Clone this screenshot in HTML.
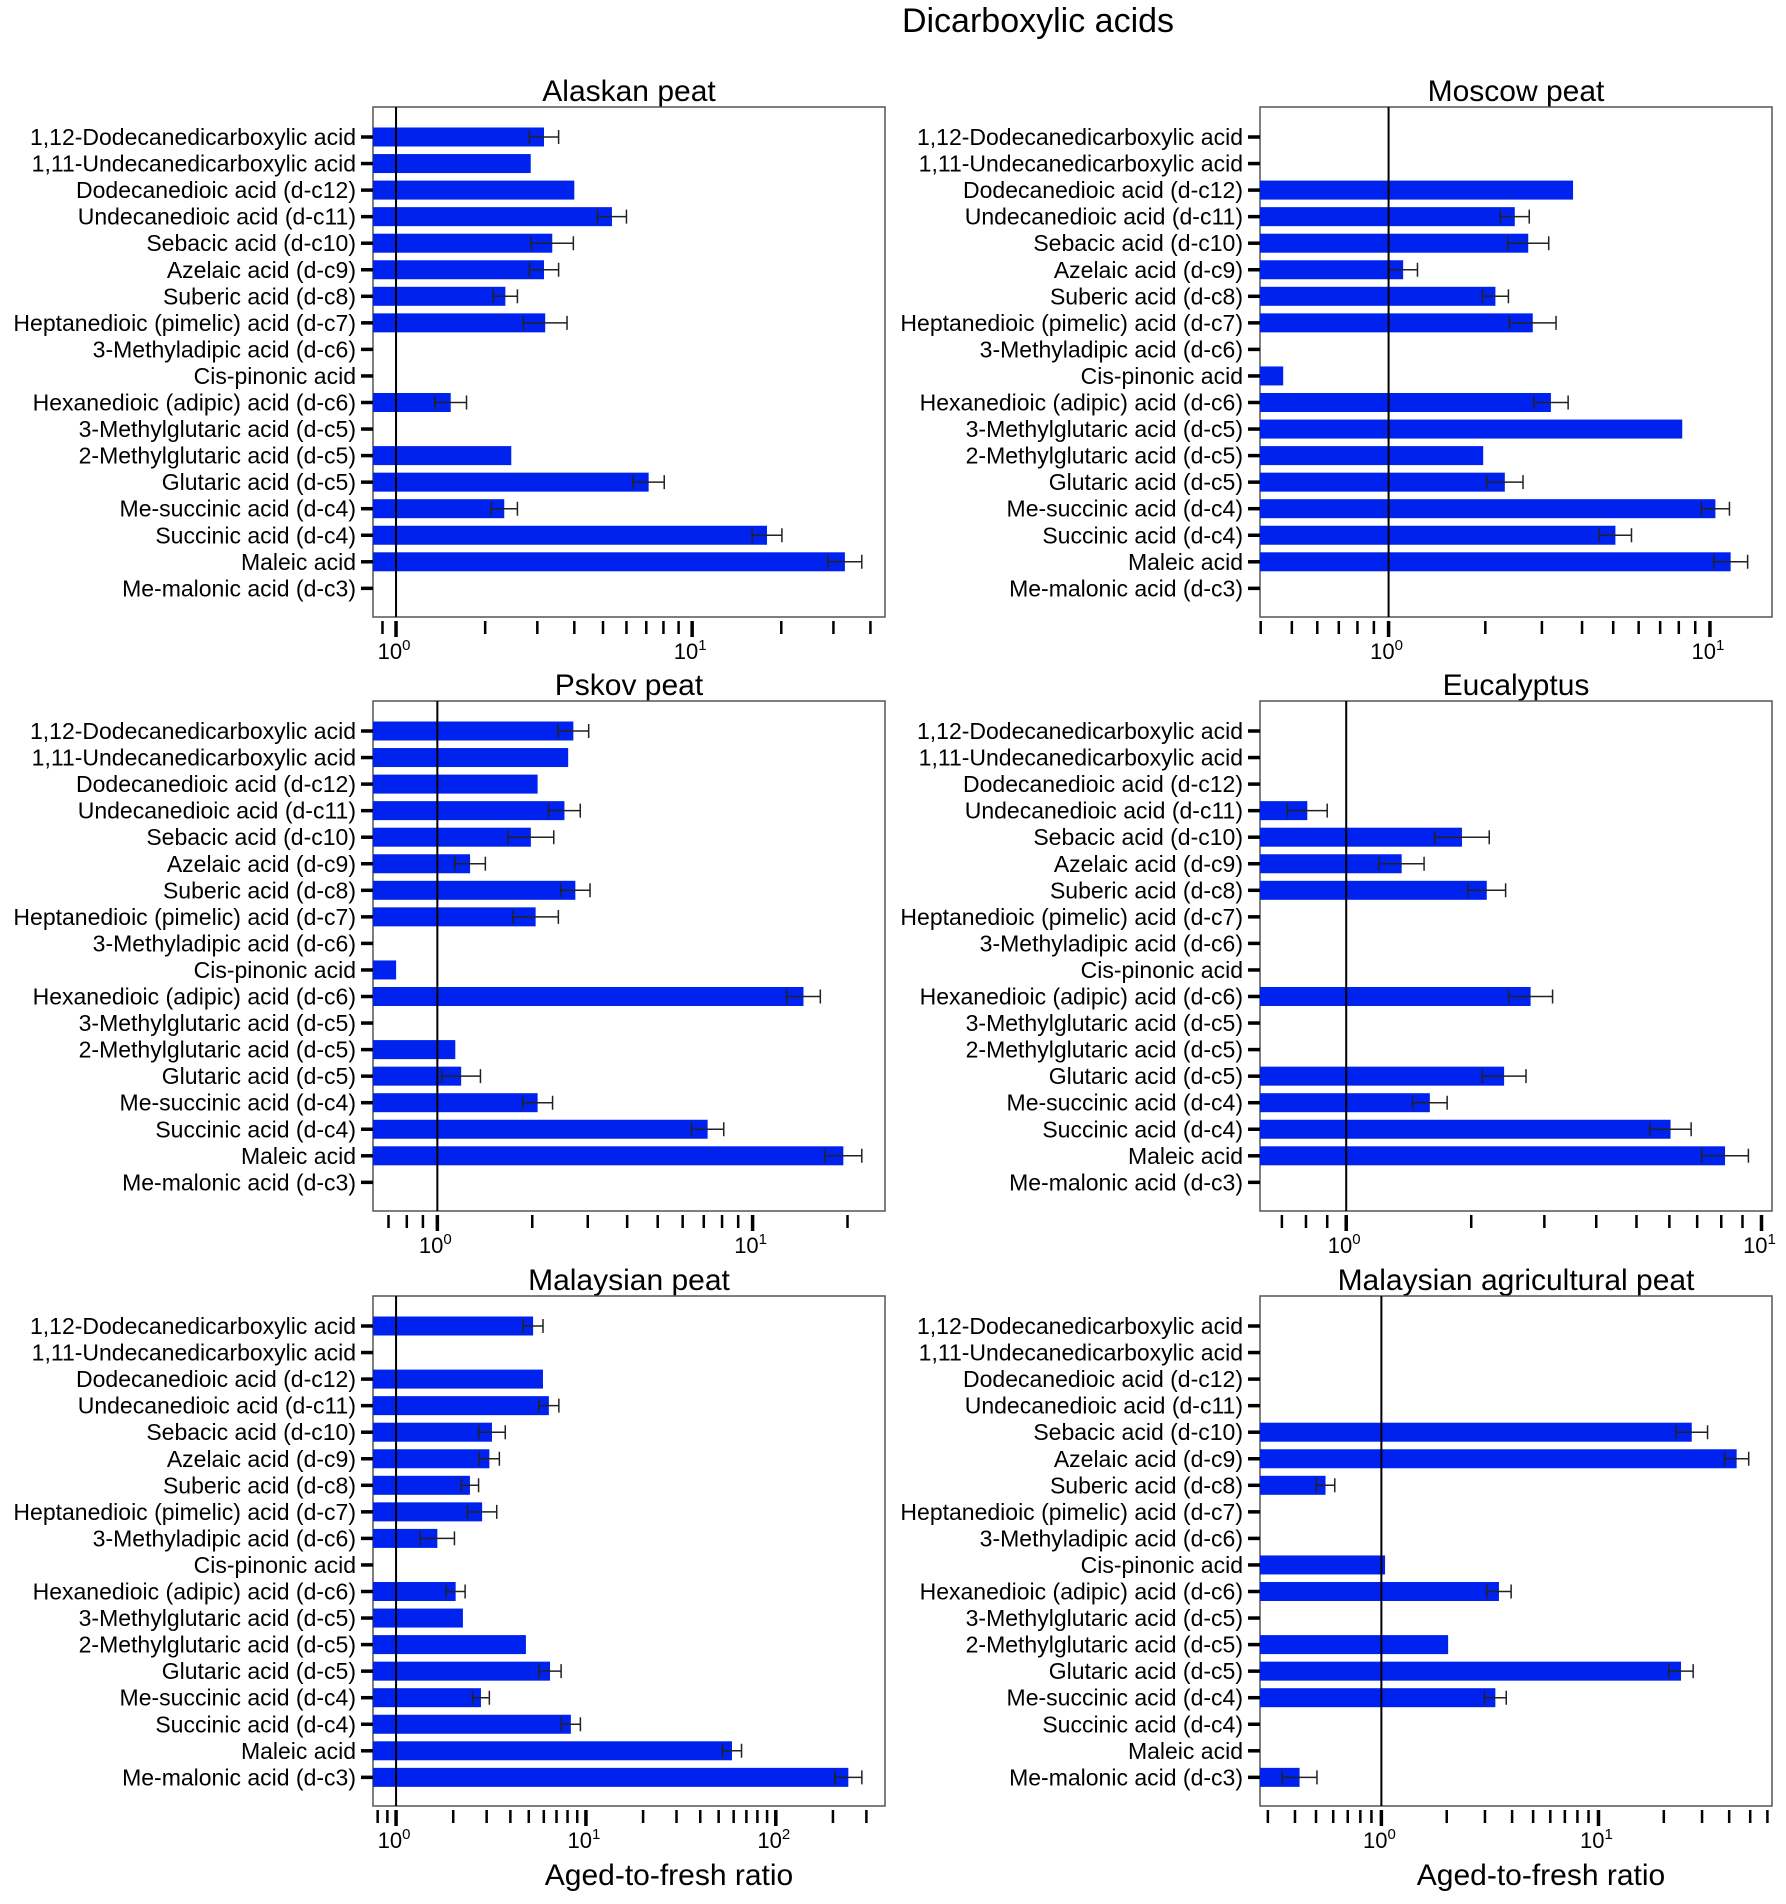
<!DOCTYPE html>
<html><head><meta charset="utf-8"><style>
html,body{margin:0;padding:0;background:#fff;}
svg{display:block;font-family:"Liberation Sans","DejaVu Sans",sans-serif;}
</style></head>
<body>
<svg id="fig" width="1786" height="1904" viewBox="0 0 1786 1904" xmlns="http://www.w3.org/2000/svg">
<text x="1038" y="32" font-size="34" text-anchor="middle">Dicarboxylic acids</text>
<text x="669" y="1885" font-size="30" text-anchor="middle">Aged-to-fresh ratio</text>
<text x="1541" y="1885" font-size="30" text-anchor="middle">Aged-to-fresh ratio</text>
</svg>
<script>
const categories = ["1,12-Dodecanedicarboxylic acid","1,11-Undecanedicarboxylic acid","Dodecanedioic acid (d-c12)","Undecanedioic acid (d-c11)","Sebacic acid (d-c10)","Azelaic acid (d-c9)","Suberic acid (d-c8)","Heptanedioic (pimelic) acid (d-c7)","3-Methyladipic acid (d-c6)","Cis-pinonic acid","Hexanedioic (adipic) acid (d-c6)","3-Methylglutaric acid (d-c5)","2-Methylglutaric acid (d-c5)","Glutaric acid (d-c5)","Me-succinic acid (d-c4)","Succinic acid (d-c4)","Maleic acid","Me-malonic acid (d-c3)"];
const panelTitles = ["Alaskan peat","Moscow peat","Pskov peat","Eucalyptus","Malaysian peat","Malaysian agricultural peat"];
// values (null = no bar); errors = upper bound of error bar (null = none)
const alaskanValues = [3.16,2.85,4.0,5.36,3.37,3.16,2.34,3.19,null,null,1.53,null,2.45,7.13,2.32,17.9,32.8,null];
const alaskanErrHi  = [3.54,null,null,6.0,3.97,3.54,2.57,3.78,null,null,1.73,null,null,8.05,2.57,20.1,37.4,null];
const moscowValues  = [null,null,3.75,2.47,2.72,1.11,2.15,2.81,null,0.47,3.2,8.2,1.97,2.3,10.4,5.08,11.6,null];
const moscowErrHi   = [null,null,null,2.74,3.15,1.23,2.36,3.32,null,null,3.62,null,null,2.62,11.5,5.7,13.1,null];
const pskovValues   = [2.7,2.6,2.08,2.53,1.98,1.27,2.74,2.05,null,0.74,14.5,null,1.14,1.19,2.08,7.2,19.4,null];
const pskovErrHi    = [3.02,null,null,2.84,2.34,1.42,3.05,2.42,null,null,16.4,null,null,1.37,2.32,8.1,22.2,null];
const eucValues     = [null,null,null,0.806,1.9,1.36,2.18,null,null,null,2.78,null,null,2.4,1.59,6.04,8.17,null];
const eucErrHi      = [null,null,null,0.90,2.21,1.54,2.42,null,null,null,3.14,null,null,2.71,1.75,6.77,9.3,null];
const malValues     = [5.27,null,5.94,6.38,3.2,3.1,2.45,2.84,1.65,null,2.06,2.25,4.83,6.47,2.8,8.33,58.8,241];
const malErrHi      = [5.94,null,null,7.2,3.76,3.5,2.72,3.39,2.03,null,2.31,null,null,7.4,3.1,9.35,66,284];
const agrValues     = [null,null,null,null,26.9,43.3,0.553,null,null,1.04,3.48,null,2.03,24.0,3.35,null,null,0.42];
const agrErrHi      = [null,null,null,null,31.8,49.2,0.61,null,null,null,3.96,null,null,27.3,3.76,null,null,0.505];
const xDomains = [[0.836,44.8],[0.398,15.6],[0.625,26.3],[0.62,10.6],[0.756,376],[0.276,63]];
const xTickDecades = [[0,1],[0,1],[0,1],[0,1],[0,1,2],[0,1]];
const seriesValues = [alaskanValues,moscowValues,pskovValues,eucValues,malValues,agrValues];
const seriesErrHi = [alaskanErrHi,moscowErrHi,pskovErrHi,eucErrHi,malErrHi,agrErrHi];

const NS="http://www.w3.org/2000/svg";
const svg=document.getElementById('fig');
function mk(tag,attrs,parent){const e=document.createElementNS(NS,tag);for(const k in attrs)e.setAttribute(k,attrs[k]);(parent||svg).appendChild(e);return e;}
const lefts=[373,1260], tops=[107,701,1296], W=512, H=510;
for(let p=0;p<6;p++){
  const fx=lefts[p%2], fy=tops[Math.floor(p/2)];
  const [d0,d1]=xDomains[p];
  const l0=Math.log10(d0), l1=Math.log10(d1);
  const xs=v=>fx+(Math.log10(v)-l0)/(l1-l0)*W;
  const yc=i=>fy+30+i*26.55;
  const g=mk('g',{});
  
  
  const t=mk('text',{x:fx+W/2,y:fy-6,'font-size':30,'text-anchor':'middle'},g);
  t.textContent=panelTitles[p];
  
  
  const fr=mk('rect',{x:fx,y:fy,width:W,height:H,fill:'none',stroke:'#555','stroke-width':1.5},g);
  
  
  categories.forEach((c,i)=>{
    const y=yc(i);
    const tk=mk('line',{x1:fx-12,x2:fx,y1:y,y2:y,stroke:'#000','stroke-width':3.5},g);
    
    
    const lb=mk('text',{x:fx-17,y:y+8,'font-size':23,'text-anchor':'end'},g);
    lb.textContent=c;
    
    
    const v=seriesValues[p][i];
    if(v!=null){
      const b=mk('rect',{x:fx,y:y-9.5,width:Math.max(0,xs(v)-fx),height:19,fill:'#0022ee'},g);
      
      
      const e=seriesErrHi[p][i];
      if(e!=null){
        const xl=xs(v*v/e), xh=xs(e);
        const eb=mk('path',{d:`M${xl},${y}H${xh}M${xl},${y-7}V${y+7}M${xh},${y-7}V${y+7}`,stroke:'#222','stroke-width':1.5,fill:'none'},g);
        
        
      }
    }
  });
  const rl=mk('line',{x1:xs(1),x2:xs(1),y1:fy,y2:fy+H,stroke:'#000','stroke-width':2},g);
  
  
  for(let d=Math.floor(l0);d<=Math.ceil(l1);d++){
    for(let m=1;m<10;m++){
      const v=m*Math.pow(10,d);
      if(v<d0||v>d1)continue;
      const x=xs(v);
      const maj=m===1;
      const tk=mk('line',{x1:x,x2:x,y1:fy+H+4,y2:fy+H+(maj?20:17),stroke:'#000','stroke-width':maj?3.5:2.5},g);
      
      
    }
  }
  xTickDecades[p].forEach(d=>{
    const x=xs(Math.pow(10,d));
    const tl=mk('text',{x:x-2,y:fy+H+42,'font-size':22,'text-anchor':'middle'},g);
    tl.innerHTML='10<tspan dy="-9" font-size="15">'+d+'</tspan>';
    
    
  });
}
</script>
</body></html>
